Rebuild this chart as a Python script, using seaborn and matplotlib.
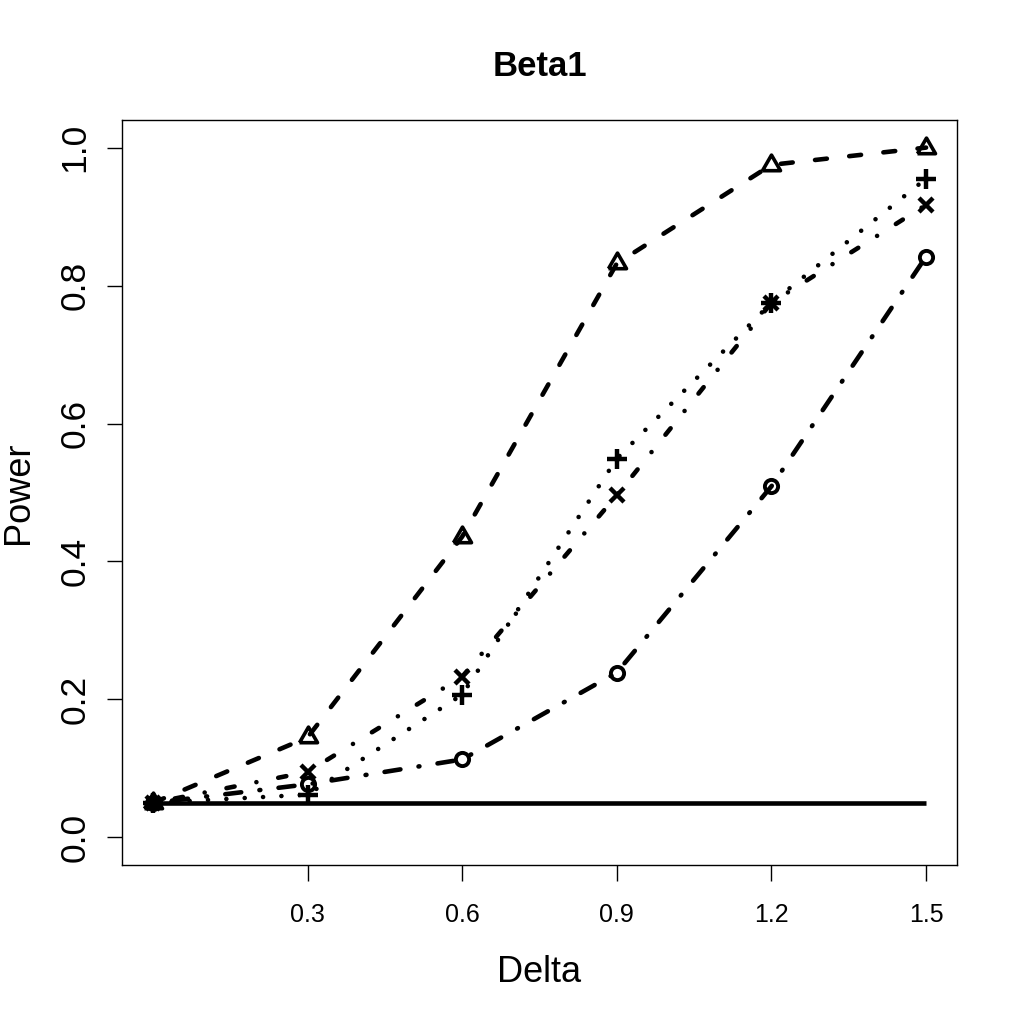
import matplotlib
matplotlib.use("Agg")
import matplotlib.pyplot as plt
import seaborn as sns
import pandas as pd

# ---- data ----
delta = [0.0, 0.3, 0.6, 0.9, 1.2, 1.5]
power_tri = [0.050, 0.145, 0.436, 0.832, 0.975, 1.000]
power_plus = [0.050, 0.062, 0.207, 0.549, 0.775, 0.955]
power_x = [0.050, 0.095, 0.233, 0.496, 0.775, 0.917]
power_circ = [0.050, 0.077, 0.113, 0.239, 0.509, 0.842]
nominal = [0.05, 0.05, 0.05, 0.05, 0.05, 0.05]

x_ticks = [0.3, 0.6, 0.9, 1.2, 1.5]
x_tick_labels = ["0.3", "0.6", "0.9", "1.2", "1.5"]
y_ticks = [0.0, 0.2, 0.4, 0.6, 0.8, 1.0]
y_tick_labels = ["0.0", "0.2", "0.4", "0.6", "0.8", "1.0"]

sns.set_style("white")
plt.rcParams["font.family"] = ["Liberation Sans", "DejaVu Sans"]
plt.rcParams["text.color"] = "black"
plt.rcParams["axes.labelcolor"] = "black"
plt.rcParams["xtick.color"] = "black"
plt.rcParams["ytick.color"] = "black"

fig = plt.figure(figsize=(10.19, 10.19), dpi=100)
ax = fig.add_axes([122 / 1019, 1 - 865 / 1019, (957 - 122) / 1019, (865 - 120) / 1019])

LW = 3.3
tri_marker = [(-1.0, -0.577), (1.0, -0.577), (0.0, 1.155), (-1.0, -0.577)]
series = [
    (power_tri, tri_marker, (0, (2.6, 4.9)), 15, 2.6),
    (power_plus, "+", (0, (0.01, 4.0)), 14, 3.2),
    (power_x, "x", (0, (0.01, 4.85, 1.8, 4.85)), 10.5, 3.2),
    (power_circ, "o", (0, (0.2, 4.0, 3.5, 4.0)), 9.5, 2.8),
]

# solid nominal level line
sns.lineplot(x=delta, y=nominal, ax=ax, color="black", linewidth=LW,
             linestyle="-", solid_capstyle="butt")

for vals, mk, ls, ms, mew in series:
    df = pd.DataFrame({"Delta": delta, "Power": vals})
    sns.lineplot(data=df, x="Delta", y="Power", ax=ax, color="black",
                 linewidth=LW, linestyle=ls, marker=mk, markersize=ms,
                 markeredgewidth=mew, markeredgecolor="black",
                 markerfacecolor="none", dash_capstyle="round")

for line in ax.get_lines():
    line.set_markerfacecolor("none")

ax.set_xlim(-0.06, 1.56)
ax.set_ylim(-0.04, 1.04)
ax.set_xticks(x_ticks)
ax.set_xticklabels(x_tick_labels, fontsize=18)
ax.set_yticks(y_ticks)
ax.set_yticklabels(y_tick_labels, fontsize=25.5, rotation=90, va="center")

ax.tick_params(axis="x", length=11.5, width=1.0, pad=16, direction="out", bottom=True, colors="black")
ax.tick_params(axis="y", length=11, width=1.0, pad=11, direction="out", left=True, colors="black")

for sp in ax.spines.values():
    sp.set_visible(True)
    sp.set_color("black")
    sp.set_linewidth(1.0)

ax.set_xlabel("Delta", fontsize=26, labelpad=20, color="black")
ax.set_ylabel("Power", fontsize=26, labelpad=16, color="black")
ax.set_title("Beta1", fontsize=25, fontweight="bold", pad=32, color="black")
ax.grid(False)

fig.savefig("out.png", dpi=100, facecolor="white")
